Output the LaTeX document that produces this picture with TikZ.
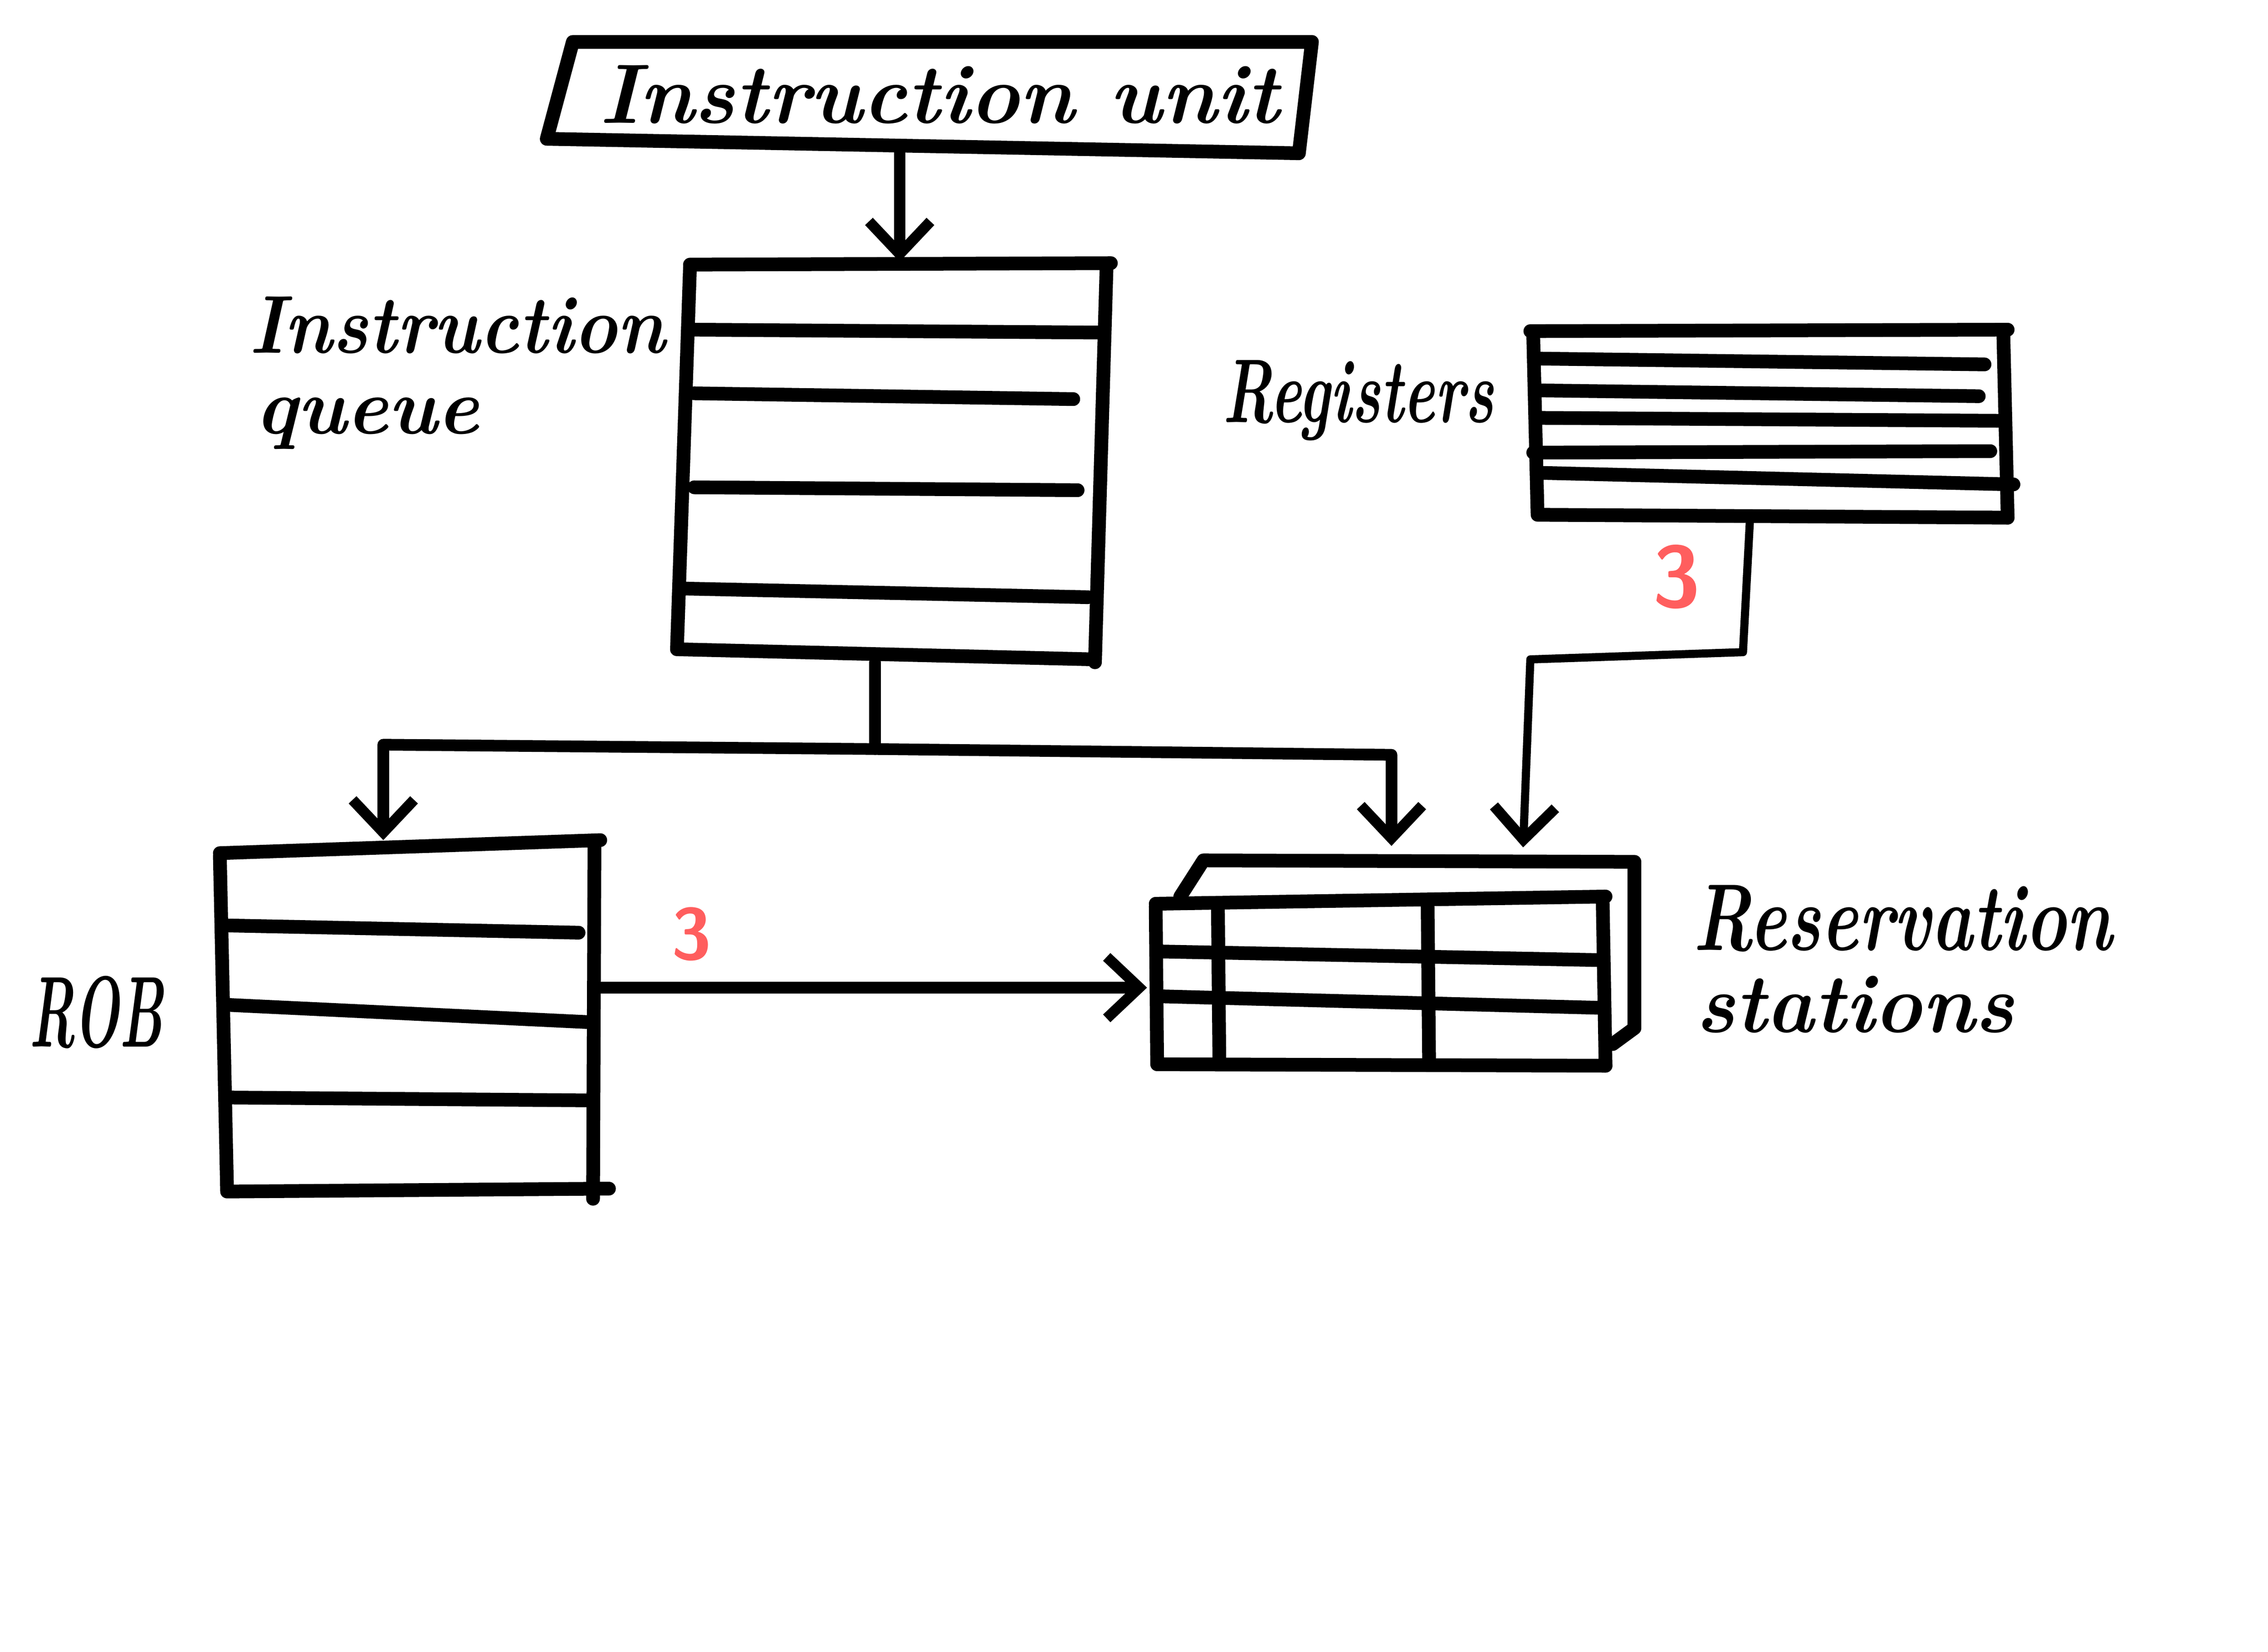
\documentclass[tikz,border=0pt]{standalone}
\usetikzlibrary{arrows.meta}
\definecolor{redthree}{RGB}{255,94,94}
\tikzset{
  box/.style={line width=5.4pt, line cap=round, line join=round},
  row/.style={line width=5.4pt, line cap=round},
  conn/.style={line width=4.6pt, line cap=round, line join=round},
  thinconn/.style={line width=3.2pt, line cap=round, line join=round},
  barb/.style={-{Straight Barb[length=0.45cm,width=0.85cm,line width=4.2pt]}},
  lbl/.style={inner sep=0pt, anchor=base west},
  three/.style={inner sep=0pt, text=redthree},
}
\begin{document}
\begin{tikzpicture}[x=0.02cm,y=-0.02cm]
\useasboundingbox (0,0) rectangle (1568,1142.3);

% ---------- Instruction unit ----------
\draw[box] (396,29) -- (907,29) -- (898,106) -- (378,96) -- cycle;
\node[lbl] (iutext) at (414,85) {\resizebox{9.4cm}{0.8cm}{\bfseries\itshape Instruction unit}};
\coordinate (iub) at (622,103);

% ---------- Instruction queue ----------
\draw[box] (477,183) -- (768,182);
\draw[box] (477,185) -- (468,449) -- (757,456);
\draw[box] (765,185) -- (757,458);
\draw[row] (480,228) -- (762,230);
\draw[row] (480,272) -- (742,276);
\draw[row] (480,337) -- (745,339);
\draw[row] (472,407) -- (752,413);
\coordinate (iqt) at (622,181);
\coordinate (iqb) at (605,458);
\node[lbl] (iqlab1) at (172,244) {\resizebox{5.75cm}{0.78cm}{\bfseries\itshape Instruction}};
\node[lbl] (iqlab2) at (176,300) {\resizebox{3.1cm}{0.5cm}{\bfseries\itshape queue}};

% ---------- Registers ----------
\draw[box] (1058,229) -- (1388,228);
\draw[box] (1060,232) -- (1063,356) -- (1388,358);
\draw[box] (1385,230) -- (1388,358);
\draw[row] (1065,248) -- (1372,252);
\draw[row] (1065,270) -- (1368,274);
\draw[row] (1065,289) -- (1383,291);
\draw[row] (1060,313) -- (1376,312);
\draw[row] (1065,327) -- (1392,335);
\coordinate (regb) at (1210,356);
\node[lbl] (reglab) at (845,292) {\resizebox{3.75cm}{0.86cm}{\bfseries\itshape Registers}};
\node[three] (three1) at (1159,399) {\resizebox{!}{0.86cm}{\sffamily\bfseries 3}};

% ---------- ROB ----------
\draw[box] (152,590) -- (415,581);
\draw[box] (152,592) -- (157,824) -- (421,822);
\draw[box] (411,584) -- (410,829);
\draw[row] (157,640) -- (400,645);
\draw[row] (159,695) -- (410,707);
\draw[row] (159,759) -- (410,761);
\coordinate (robt) at (265,581);
\coordinate (robr) at (410,683);
\node[lbl] (roblab) at (20,724) {\resizebox{1.85cm}{0.98cm}{\bfseries\itshape ROB}};
\node[three] (three2) at (478,646) {\resizebox{!}{0.72cm}{\sffamily\bfseries 3}};

% ---------- Reservation stations ----------
\draw[box] (816,620) -- (832,595) -- (1130,596) -- (1130,711) -- (1115,722);
\draw[box] (799,625) -- (1110,620);
\draw[box] (799,627) -- (800,736) -- (1110,737);
\draw[box] (1108,622) -- (1110,737);
\draw[row] (802,658) -- (1108,664);
\draw[row] (802,689) -- (1108,697);
\draw[row] (842,627) -- (843,734);
\draw[row] (987,627) -- (988,734);
\coordinate (rst1) at (962,585);
\coordinate (rst2) at (1053,586);
\coordinate (rsl) at (793,683);
\node[lbl] (rslab1) at (1170,657) {\resizebox{5.8cm}{0.9cm}{\bfseries\itshape Reservation}};
\node[lbl] (rslab2) at (1172,714) {\resizebox{4.4cm}{0.78cm}{\bfseries\itshape stations}};

% ---------- connectors ----------
\coordinate (jn) at (605,518);
\draw[conn,barb] (iub) -- (iqt);
\draw[conn] (iqb) -- (jn);
\draw[conn,barb] (jn) -- (265,515) -- (robt);
\draw[conn,barb] (jn) -- (962,522) -- (rst1);
\draw[thinconn,barb] (regb) -- (1205,451) -- (1058,456) -- (rst2);
\draw[conn,barb] (robr) -- (rsl);
\end{tikzpicture}
\end{document}
